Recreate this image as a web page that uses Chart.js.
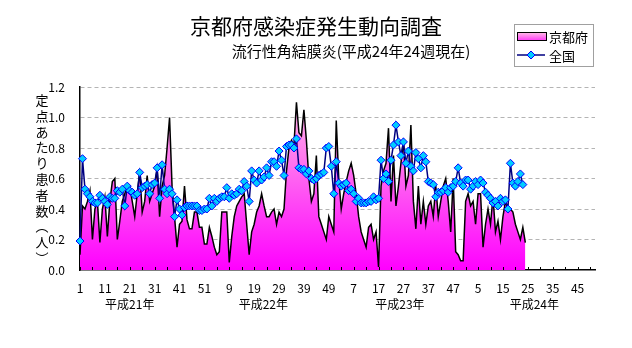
<!DOCTYPE html>
<html>
<head>
<meta charset="utf-8">
<script src="https://cdn.jsdelivr.net/npm/chart.js@4.4.1/dist/chart.umd.min.js"></script>
<style>
  body { margin: 0; background: #fff; }
  canvas { display: block; }
</style>
</head>
<body>
<canvas id="chart" width="632" height="348"></canvas>
<script>
const titleText = "京都府感染症発生動向調査";
const subtitleText = "流行性角結膜炎(平成24年24週現在)";
const yTitle = "定点あたり患者数︵人︶";
const yearLabels = ["平成21年", "平成22年", "平成23年", "平成24年"];
const yearLabelPos = [20, 73.7, 128.6, 182.6];

// weeks 1-52 for 平成21年 .. 平成24年
const weeks = [];
for (let y = 0; y < 4; y++) {
  for (let w = 1; w <= 52; w++) weeks.push(String(w));
}

const kyoto = [
  0.10,0.42,0.40,0.45,0.52,0.20,0.40,0.45,0.18,0.40,
  0.48,0.22,0.45,0.58,0.60,0.20,0.32,0.45,0.50,0.55,
  0.55,0.45,0.35,0.50,0.65,0.38,0.45,0.62,0.45,0.50,
  0.55,0.66,0.35,0.55,0.62,0.80,1.00,0.55,0.35,0.15,
  0.30,0.32,0.55,0.33,0.27,0.27,0.38,0.38,0.28,0.28,
  0.17,0.17,0.28,0.22,0.15,0.10,0.12,0.38,0.38,0.38,
  0.05,0.22,0.35,0.42,0.45,0.48,0.50,0.30,0.10,0.25,
  0.30,0.38,0.42,0.50,0.42,0.35,0.35,0.38,0.40,0.30,
  0.38,0.35,0.40,0.65,0.80,0.85,0.82,1.10,0.90,0.88,
  1.05,0.85,0.60,0.45,0.50,0.75,0.35,0.30,0.25,0.20,
  0.35,0.30,0.25,0.98,0.60,0.40,0.50,0.58,0.65,0.70,
  0.62,0.50,0.35,0.25,0.20,0.15,0.28,0.30,0.20,0.25,
  0.02,0.55,0.65,0.70,0.93,0.45,0.75,0.42,0.55,0.70,
  0.85,0.55,0.62,0.95,0.45,0.27,0.55,0.30,0.45,0.30,
  0.42,0.45,0.35,0.55,0.35,0.45,0.55,0.60,0.45,0.25,
  0.60,0.12,0.10,0.06,0.06,0.45,0.50,0.42,0.45,0.30,
  0.50,0.50,0.15,0.30,0.40,0.30,0.48,0.25,0.32,0.20,
  0.35,0.45,0.40,0.40,0.38,0.30,0.25,0.20,0.28,0.18
];

const national = [
  0.19,0.73,0.53,0.50,0.48,0.45,0.44,0.44,0.49,0.47,
  0.45,0.43,0.48,0.47,0.47,0.52,0.51,0.53,0.42,0.55,
  0.52,0.51,0.49,0.50,0.64,0.54,0.55,0.56,0.50,0.56,
  0.57,0.67,0.47,0.69,0.53,0.50,0.53,0.50,0.35,0.46,
  0.40,0.36,0.41,0.42,0.42,0.42,0.42,0.42,0.39,0.39,
  0.40,0.40,0.47,0.42,0.47,0.45,0.47,0.48,0.48,0.54,
  0.47,0.50,0.49,0.50,0.53,0.52,0.58,0.55,0.45,0.65,
  0.59,0.57,0.65,0.59,0.61,0.67,0.62,0.71,0.71,0.68,
  0.78,0.72,0.62,0.81,0.82,0.82,0.80,0.86,0.67,0.66,
  0.66,0.63,0.65,0.60,0.59,0.60,0.62,0.63,0.64,0.80,
  0.81,0.68,0.50,0.71,0.57,0.55,0.56,0.57,0.52,0.53,
  0.50,0.45,0.47,0.44,0.44,0.44,0.45,0.45,0.48,0.46,
  0.47,0.72,0.60,0.63,0.58,0.72,0.82,0.95,0.84,0.75,
  0.84,0.70,0.78,0.68,0.65,0.77,0.73,0.67,0.75,0.71,
  0.58,0.57,0.56,0.48,0.51,0.51,0.52,0.54,0.51,0.54,
  0.55,0.58,0.67,0.57,0.55,0.59,0.59,0.53,0.55,0.58,
  0.56,0.59,0.57,0.51,0.49,0.47,0.44,0.45,0.42,0.47,
  0.45,0.46,0.40,0.70,0.57,0.55,0.58,0.63,0.56
];

const FONT = '"Noto Sans CJK JP", sans-serif';

function pinkFill(c, top, bottom) {
  const g = c.createLinearGradient(0, top, 0, bottom);
  g.addColorStop(0, "#ffc4e4");
  g.addColorStop(1, "#ff00ff");
  return g;
}

const decor = {
  id: "decor",
  afterDatasetsDraw(chart) {
    const c = chart.ctx;
    const x = chart.scales.x;
    const bottom = chart.chartArea.bottom;
    // short ticks pointing into the plot, every 5 weeks
    c.save();
    c.strokeStyle = "#000";
    c.lineWidth = 1;
    for (let i = 0; i < weeks.length; i += 5) {
      const px = Math.round(x.getPixelForValue(i)) + 0.5;
      c.beginPath();
      c.moveTo(px, bottom);
      c.lineTo(px, bottom - 3);
      c.stroke();
    }
    c.restore();
  },
  afterDraw(chart) {
    const c = chart.ctx;
    const x = chart.scales.x;
    c.save();
    c.fillStyle = "#000";
    c.textAlign = "center";
    c.textBaseline = "middle";

    c.font = "21px " + FONT;
    c.fillText(titleText, 316, 26);
    c.font = "15px " + FONT;
    c.fillText(subtitleText, 351, 51);

    // vertical y-axis title
    c.font = "13px " + FONT;
    [...yTitle].forEach((ch, k) => c.fillText(ch, 42, 100 + k * 15.8));

    // year labels under the week ticks
    c.font = "12px " + FONT;
    yearLabels.forEach((t, k) => c.fillText(t, x.getPixelForValue(yearLabelPos[k]), 304));

    // legend box
    const lx = 514, ly = 24, lw = 79, lh = 42;
    c.fillStyle = "#fff";
    c.fillRect(lx, ly, lw, lh);
    c.strokeStyle = "#a0a0a0";
    c.lineWidth = 1;
    c.strokeRect(lx + 0.5, ly + 0.5, lw, lh);

    const ds = chart.data.datasets;
    // row 1: area swatch
    const r1 = ly + 12;
    c.fillStyle = pinkFill(c, r1 - 4, r1 + 8);
    c.fillRect(lx + 3, r1 - 4, 29, 8);
    c.strokeStyle = "#000";
    c.strokeRect(lx + 3.5, r1 - 3.5, 29, 8);
    c.fillStyle = "#000";
    c.textAlign = "left";
    c.font = "13px " + FONT;
    c.fillText(ds[0].label, lx + 35, r1 + 1);

    // row 2: line with diamond
    const r2 = ly + 31;
    c.strokeStyle = "#000080";
    c.lineWidth = 1.5;
    c.beginPath();
    c.moveTo(lx + 3, r2);
    c.lineTo(lx + 31, r2);
    c.stroke();
    c.beginPath();
    c.moveTo(lx + 17, r2 - 4);
    c.lineTo(lx + 21, r2);
    c.lineTo(lx + 17, r2 + 4);
    c.lineTo(lx + 13, r2);
    c.closePath();
    c.fillStyle = "#00ccff";
    c.fill();
    c.strokeStyle = "#0000ff";
    c.lineWidth = 1;
    c.stroke();
    c.fillStyle = "#000";
    c.fillText(ds[1].label, lx + 35, r2 + 1);
    c.restore();
  }
};

new Chart(document.getElementById("chart"), {
  type: "line",
  data: {
    labels: weeks,
    datasets: [
      {
        label: "京都府",
        data: kyoto,
        fill: "origin",
        borderColor: "#000",
        borderWidth: 1.5,
        pointRadius: 0,
        tension: 0,
        order: 2,
        backgroundColor: (ctx) => {
          const area = ctx.chart.chartArea;
          if (!area) return "#ff66dd";
          return pinkFill(ctx.chart.ctx, area.top, area.bottom);
        }
      },
      {
        label: "全国",
        data: national,
        fill: false,
        borderColor: "#000080",
        borderWidth: 1.5,
        pointStyle: "rectRot",
        pointRadius: 4,
        pointBackgroundColor: "#00ccff",
        pointBorderColor: "#0000ff",
        pointBorderWidth: 1,
        tension: 0,
        order: 1
      }
    ]
  },
  options: {
    responsive: false,
    animation: false,
    devicePixelRatio: 1,
    layout: { padding: { top: 87, right: 37, bottom: 0, left: 0 } },
    plugins: {
      legend: { display: false },
      title: { display: false },
      tooltip: { enabled: false }
    },
    scales: {
      x: {
        type: "category",
        offset: false,
        afterFit: (s) => { s.height = 78; },
        grid: { display: false },
        border: { display: true, color: "#000", width: 1.5 },
        ticks: {
          autoSkip: false,
          maxRotation: 0,
          padding: 3,
          color: "#000",
          font: { family: FONT, size: 12 },
          callback: function (v, i) { return i % 10 === 0 ? this.getLabelForValue(v) : ""; }
        }
      },
      y: {
        min: 0,
        max: 1.2,
        afterFit: (s) => { s.width = 80; },
        grid: {
          drawTicks: false,
          color: (ctx) => ctx.tick && ctx.tick.value === 0 ? "rgba(0,0,0,0)" : "#b4b4b4"
        },
        border: { display: true, color: "#000", width: 1.5, dash: [4, 3] },
        ticks: {
          stepSize: 0.2,
          padding: 15,
          color: "#000",
          font: { family: FONT, size: 12 },
          callback: (v) => v.toFixed(1)
        }
      }
    }
  },
  plugins: [decor]
});
</script>
</body>
</html>
